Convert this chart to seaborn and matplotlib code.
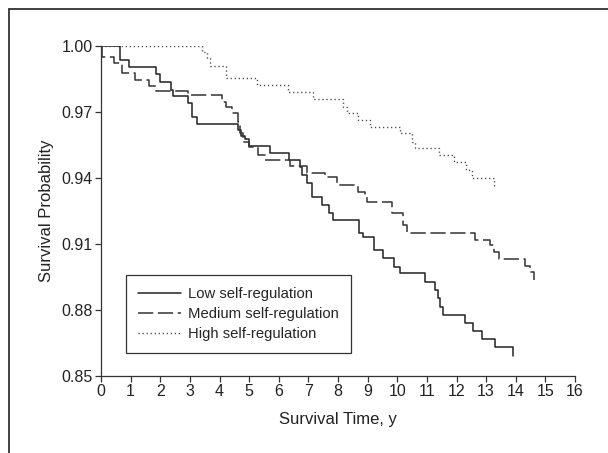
import matplotlib
matplotlib.use("Agg")
import matplotlib.pyplot as plt
from matplotlib.lines import Line2D
import seaborn as sns

# ---- data ----
low_time = [0, 0.64, 0.96, 1.86, 2.00, 2.36, 2.44, 2.93, 3.06, 3.25, 4.64, 4.72, 4.85, 5.01,
            5.71, 6.33, 6.72, 6.78, 6.95, 7.12, 7.45, 7.68, 7.83, 8.72, 8.83, 9.20, 9.52, 9.88,
            10.08, 10.95, 11.26, 11.36, 11.45, 11.53, 12.30, 12.56, 12.86, 13.31, 13.90]
low_surv = [1.000, 0.9936, 0.9906, 0.9873, 0.9838, 0.9800, 0.9773, 0.9740, 0.9676, 0.9644,
            0.9618, 0.9590, 0.9576, 0.9545, 0.9512, 0.9480, 0.9451, 0.9414, 0.9376, 0.9315,
            0.9277, 0.9240, 0.9209, 0.9148, 0.9133, 0.9073, 0.9035, 0.8997, 0.8967, 0.8929,
            0.8891, 0.8853, 0.8815, 0.8777, 0.8742, 0.8706, 0.8667, 0.8633, 0.8590]

med_time = [0, 0.05, 0.43, 0.70, 1.15, 1.61, 1.86, 2.93, 4.07, 4.22, 4.41, 4.62, 4.70, 4.80,
            5.00, 5.31, 5.54, 6.38, 6.97, 7.57, 7.96, 8.69, 8.92, 8.97, 9.82, 10.19, 10.34,
            12.64, 13.14, 13.25, 13.42, 14.30, 14.47, 14.60]
med_surv = [1.000, 0.9951, 0.9921, 0.9876, 0.9845, 0.9818, 0.9797, 0.9777, 0.9747, 0.9724,
            0.9695, 0.9655, 0.9603, 0.9565, 0.9543, 0.9505, 0.9480, 0.9455, 0.9424, 0.9406,
            0.9368, 0.9338, 0.9323, 0.9290, 0.9240, 0.9186, 0.9152, 0.9120, 0.9095, 0.9065,
            0.9032, 0.9000, 0.8974, 0.8936]

high_time = [0, 3.40, 3.59, 3.68, 4.22, 5.27, 6.30, 7.17, 8.16, 8.32, 8.69, 9.09, 10.08,
             10.49, 10.60, 11.42, 11.93, 12.32, 12.52, 13.28]
high_surv = [1.000, 0.9972, 0.9947, 0.9910, 0.9853, 0.9823, 0.9790, 0.9760, 0.9724, 0.9697,
             0.9664, 0.9630, 0.9603, 0.9565, 0.9535, 0.9505, 0.9471, 0.9436, 0.9398, 0.9360]

labels = ["Low self-regulation", "Medium self-regulation", "High self-regulation"]
x_ticks = list(range(0, 17))
y_ticks = [0.85, 0.88, 0.91, 0.94, 0.97, 1.00]
y_ticklabels = ["0.85", "0.88", "0.91", "0.94", "0.97", "1.00"]

# ---- style ----
sns.set_style("ticks")
plt.rcParams["font.family"] = ["Liberation Sans", "DejaVu Sans"]
plt.rcParams["font.size"] = 12

W, H = 608, 453
fig = plt.figure(figsize=(W / 100, H / 100), dpi=100)
left, right, top, bottom = 101, 575, 46, 376
ax = fig.add_axes([left / W, 1 - bottom / H, (right - left) / W, (bottom - top) / H])

sns.lineplot(x=low_time, y=low_surv, ax=ax, drawstyle="steps-post", estimator=None,
             color="#222222", linewidth=1.1, label=labels[0])
sns.lineplot(x=med_time, y=med_surv, ax=ax, drawstyle="steps-post", estimator=None,
             color="#333333", linewidth=1.1, label=labels[1])
sns.lineplot(x=high_time, y=high_surv, ax=ax, drawstyle="steps-post", estimator=None,
             color="#444444", linewidth=1.0, label=labels[2])
lines = ax.get_lines()
lines[1].set_dashes((10, 3))
lines[2].set_dashes((0.9, 2.0))

ax.set_xlim(0, 16)
ax.set_ylim(0.85, 1.00)
ax.set_xticks(x_ticks)
ax.set_xticklabels([str(t) for t in x_ticks])
ax.set_yticks(y_ticks)
ax.set_yticklabels(y_ticklabels)
ax.tick_params(axis="both", direction="out", length=4, width=0.9, color="#333333",
               labelsize=11.5, labelcolor="#222222", pad=2)
for s in ["top", "right"]:
    ax.spines[s].set_visible(False)
for s in ["left", "bottom"]:
    ax.spines[s].set_color("#333333")
    ax.spines[s].set_linewidth(0.9)
ax.set_xlabel("Survival Time, y", fontsize=12, color="#222222", labelpad=9)
ax.set_ylabel("Survival Probability", fontsize=12, color="#222222", labelpad=5)

leg = ax.legend(loc="upper left",
                bbox_to_anchor=((125.7 - left) / (right - left), (bottom - 275) / (bottom - top)),
                borderaxespad=0, frameon=True, fancybox=False, shadow=False,
                fontsize=10.7, handlelength=2.9, handletextpad=0.5, labelspacing=0.42,
                borderpad=0.8)
leg.get_frame().set_edgecolor("#333333")
leg.get_frame().set_linewidth(0.9)
leg.get_frame().set_alpha(1)

# outer frame (top and left border)
fx, fy = 8.5 / W, 1 - 8.5 / H
fig.add_artist(Line2D([fx, 1], [fy, fy], transform=fig.transFigure, color="#333333", linewidth=1.3))
fig.add_artist(Line2D([fx, fx], [0, fy], transform=fig.transFigure, color="#333333", linewidth=1.3))

fig.savefig("out.png", dpi=100)
